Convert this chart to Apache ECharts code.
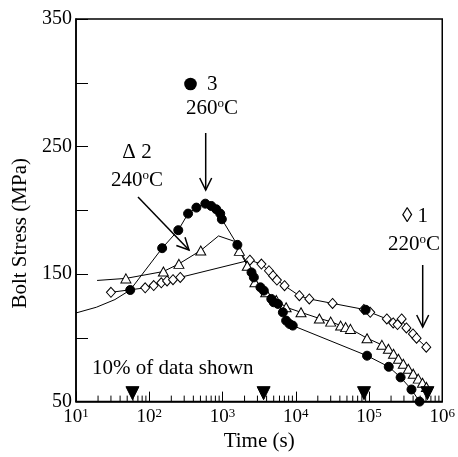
<!DOCTYPE html>
<html><head><meta charset="utf-8">
<script src="https://cdn.jsdelivr.net/npm/echarts@6/dist/echarts.min.js"></script>
<style>html,body{margin:0;padding:0;background:#fff}#c{width:458px;height:457px}</style>
</head><body><div id="c"></div>
<script>
// ---- data ----
const xTickExps = [1, 2, 3, 4, 5, 6];
const yTickLabels = [50, 150, 250, 350];

// Series 1: 220 oC (open diamonds)
const diamondT = [30, 88, 115, 146, 175, 211, 265, 2365, 3400, 4310, 4890, 5530, 7030, 11200, 15300, 31800, 85000, 104000, 175000, 214000, 245000, 279000, 324000, 398000, 446000, 605000];
const diamondS = [135.7, 139.2, 141, 143.1, 144.6, 145.6, 147.4, 160.9, 157.8, 152.6, 148.7, 145.3, 140.9, 133, 130.5, 127, 122.3, 120, 114.8, 111.7, 110.4, 114.8, 107.8, 103.1, 99.7, 92.7];

// Series 2: 240 oC (open triangles)
const triT = [48, 156, 254, 505, 1700, 2180, 2770, 3890, 5420, 7390, 11800, 21000, 30000, 41000, 48000, 55800, 94000, 150000, 184000, 216000, 252000, 294000, 344000, 402000, 470000, 537000, 608000];
const triS = [146.6, 152, 158, 168.5, 168.2, 156.5, 143.6, 135.7, 129.7, 124, 120, 115.2, 112.7, 109.6, 108.4, 107, 99.7, 94.5, 91.4, 87.5, 83.6, 79.7, 75.8, 71.9, 68, 64.8, 61.5];
// unmarked vertices of the 240 oC curve
const triPathT = [19.4, 883, 1480];
const triPathS = [145, 179.9, 175.5];

// Series 3: 260 oC (filled circles)
const circT = [55, 150, 249, 339, 440, 583, 703, 822, 931, 980, 1596, 2489, 2680, 3296, 3664, 4637, 5000, 5715, 6670, 7390, 8220, 9100, 94000, 186000, 270000, 380000, 490000];
const circS = [137.5, 170.3, 184.4, 197.4, 202.1, 205.2, 203.4, 200.8, 197.4, 193, 172.9, 151.3, 147.4, 139.6, 137, 130.5, 127.9, 126.6, 120, 113.5, 110.9, 109.6, 86, 77.3, 69, 59.5, 50];
// unmarked lead-in of the 260 oC curve
const circPathT = [10, 19, 34];
const circPathS = [119.5, 124, 130];
// overlapping filled point near the 220 oC curve
const extraT = [90000];
const extraS = [122];

// "10% of data shown" indicator markers
const indT = [59, 3640, 85500, 627000];
const indS = [56.6, 56.6, 56.6, 56.6];

// ---- helpers ----
const FONT = 'Liberation Serif';
function pairs(t, s) { return t.map((v, i) => [v, s[i]]); }
function merged(t, s, pt, ps) {
  return pairs(t, s).concat(pairs(pt, ps)).sort((a, b) => a[0] - b[0]);
}
const minorTicks = [];
for (let e = 1; e < 6; e++) for (let k = 2; k <= 9; k++) minorTicks.push([k * Math.pow(10, e), 50]);

function lineSeries(data) {
  return { type: 'line', data: data, showSymbol: false, symbol: 'none', silent: true,
    lineStyle: { color: '#000', width: 1 }, z: 2, animation: false };
}
function markerSeries(data, symbol, size, fill) {
  return { type: 'scatter', data: data, symbol: symbol, symbolSize: size, clip: false,
    itemStyle: { color: fill, borderColor: '#000', borderWidth: 1, opacity: 1 }, z: 3, animation: false };
}

const chart = echarts.init(document.getElementById('c'), null, { renderer: 'canvas' });

const option = {
  backgroundColor: '#fff',
  animation: false,
  grid: { left: 76, right: 12, top: 19, bottom: 54, show: true, borderColor: '#000', borderWidth: 1.5, backgroundColor: 'transparent' },
  xAxis: {
    type: 'log', logBase: 10, min: 10, max: 1e6,
    name: 'Time (s)', nameLocation: 'middle', nameGap: 24,
    nameTextStyle: { fontFamily: FONT, fontSize: 21, color: '#000' },
    axisLine: { lineStyle: { color: '#000', width: 1.5 } },
    axisTick: { inside: true, length: 10, lineStyle: { color: '#000', width: 1 } },
    splitLine: { show: false },
    minorTick: { show: false },
    axisLabel: {
      margin: 5, color: '#000', showMinLabel: true, showMaxLabel: true,
      formatter: function (v) {
        const e = Math.round(Math.log10(v));
        if (xTickExps.indexOf(e) < 0) return '';
        return '{n|10}{s|' + e + '}';
      },
      rich: {
        n: { fontFamily: FONT, fontSize: 19, color: '#000', lineHeight: 20 },
        s: { fontFamily: FONT, fontSize: 13, color: '#000', verticalAlign: 'top', lineHeight: 13 }
      }
    }
  },
  yAxis: {
    type: 'value', min: 50, max: 350, interval: 50,
    name: 'Bolt Stress (MPa)', nameLocation: 'middle', nameGap: 45,
    nameTextStyle: { fontFamily: FONT, fontSize: 21, color: '#000', padding: [0, 46, 0, 0] },
    axisLine: { show: true, lineStyle: { color: '#000', width: 1.5 } },
    axisTick: { show: true, inside: true, length: 12, lineStyle: { color: '#000', width: 1 } },
    splitLine: { show: false },
    axisLabel: {
      margin: 4, color: '#000', fontFamily: FONT, fontSize: 20,
      formatter: function (v) { return yTickLabels.indexOf(v) >= 0 ? String(v) : ''; }
    }
  },
  series: [
    { type: 'custom', data: minorTicks, silent: true, z: 1, clip: false,
      renderItem: function (params, api) {
        const p = api.coord([api.value(0), api.value(1)]);
        return { type: 'line', shape: { x1: p[0], y1: p[1], x2: p[0], y2: p[1] - 6 }, style: { stroke: '#000', lineWidth: 1 } };
      } },
    lineSeries(pairs(diamondT, diamondS)),
    lineSeries(merged(triT, triS, triPathT, triPathS)),
    lineSeries(merged(circT, circS, circPathT, circPathS)),
    markerSeries(pairs(diamondT, diamondS), 'diamond', [9, 10], '#fff'),
    markerSeries(pairs(triT, triS), 'triangle', [10, 9], '#fff'),
    markerSeries(pairs(circT, circS), 'circle', 9, '#000'),
    markerSeries(pairs(extraT, extraS), 'circle', 9, '#000'),
    markerSeries(pairs(indT, indS), 'path://M0,0 L10,0 L5,10 Z', [13, 13], '#000')
  ]
};
chart.setOption(option);

// ---- annotations ----
function arrow(x1, y1, x2, y2) {
  const dx = x2 - x1, dy = y2 - y1, L = Math.hypot(dx, dy);
  const ux = dx / L, uy = dy / L, h = 12, w = 6;
  const bx = x2 - ux * h, by = y2 - uy * h;
  return [
    { type: 'line', shape: { x1: x1, y1: y1, x2: x2, y2: y2 }, style: { stroke: '#000', lineWidth: 1.5 } },
    { type: 'polyline', shape: { points: [[bx - uy * w, by + ux * w], [x2, y2], [bx + uy * w, by - ux * w]] }, style: { stroke: '#000', lineWidth: 1.5, fill: null } }
  ];
}
function label(text, x, y, align) {
  return { type: 'text', style: { text: text, x: x, y: y, align: align || 'center', verticalAlign: 'middle',
    fontFamily: FONT, fontSize: 21, fill: '#000',
    rich: { s: { fontFamily: FONT, fontSize: 13, fill: '#000', verticalAlign: 'top', lineHeight: 12 } } } };
}
const g = [
  { type: 'circle', shape: { cx: 190.5, cy: 84, r: 6.3 }, style: { fill: '#000' } },
  label('3', 207, 84, 'left'),
  label('260{s|o}C', 212, 108),
  label('\u0394 2', 137, 152),
  label('240{s|o}C', 137, 180),
  label('\u25CA 1', 415, 216),
  label('220{s|o}C', 414, 244),
  label('10% of data shown', 92, 368, 'left')
].concat(arrow(205.7, 133, 205.7, 190), arrow(138, 197, 189, 250), arrow(422.7, 265, 422.7, 327));
chart.setOption({ graphic: g });
</script>
</body></html>
